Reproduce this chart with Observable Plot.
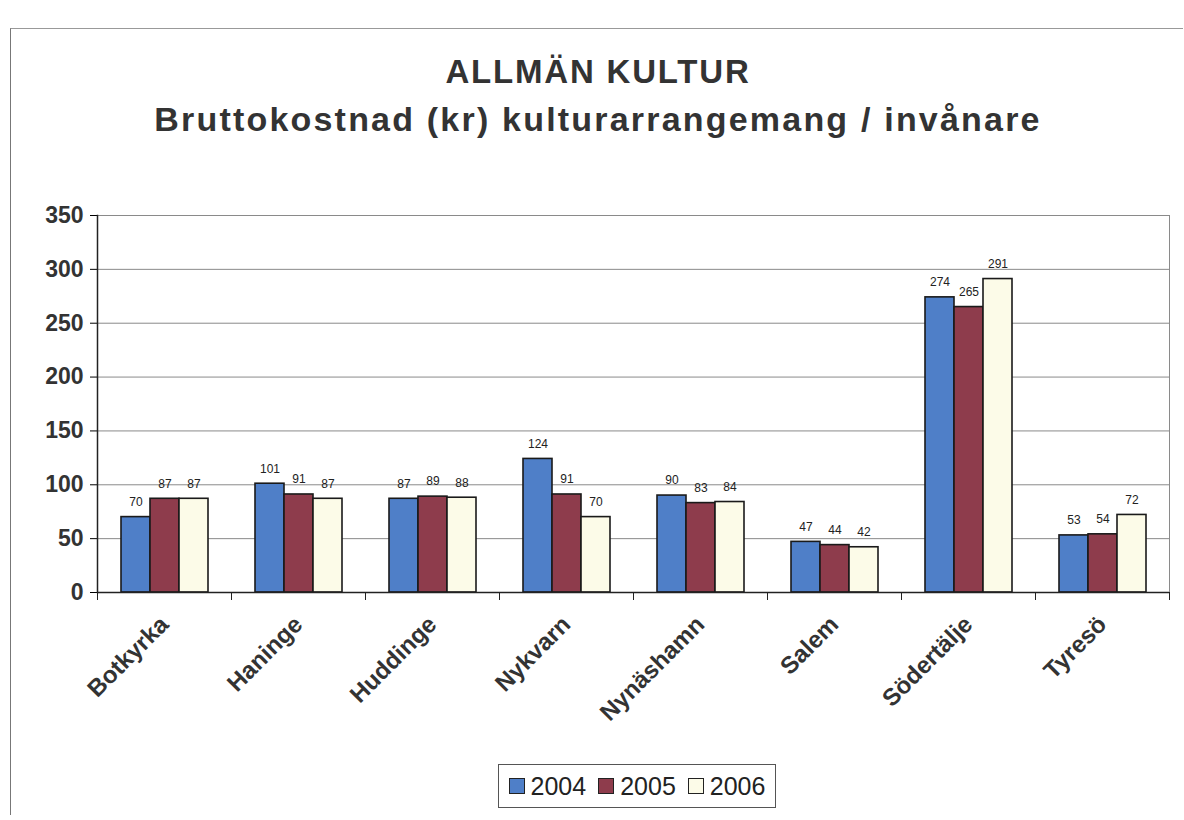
<!DOCTYPE html>
<html><head><meta charset="utf-8">
<script src="https://cdn.jsdelivr.net/npm/d3@7"></script>
<script src="https://cdn.jsdelivr.net/npm/@observablehq/plot@0.6"></script>
<style>
body{margin:0;background:#fff;font-family:"Liberation Sans",Arial,sans-serif;}
#frame{position:absolute;left:10px;top:28px;width:1172px;height:786px;border-left:1px solid #777;border-top:1px solid #999;}
#title{position:absolute;left:0;top:52px;width:1196px;text-align:center;color:#333;font-weight:bold;}
#title .t1{font-size:33px;line-height:40px;letter-spacing:1.8px;}
#title .t2{font-size:34px;line-height:46px;margin-top:4px;letter-spacing:2.2px;}
#chart{position:absolute;left:0;top:160px;}
#legend{position:absolute;left:498px;top:764px;width:276px;height:42px;border:1.5px solid #555;display:flex;align-items:center;justify-content:center;gap:12px;font-size:25px;color:#222;}
#legend span.sw{display:inline-block;width:14px;height:14px;border:1.5px solid #222;margin-right:6px;}
#legend .it{display:flex;align-items:center;}
</style></head>
<body>
<div id="frame"></div>
<div id="title"><div class="t1">ALLMÄN KULTUR</div><div class="t2">Bruttokostnad (kr) kulturarrangemang / invånare</div></div>
<div id="chart"></div>
<div id="legend"></div>
<script>
const kommuner = ["Botkyrka","Haninge","Huddinge","Nykvarn","Nynäshamn","Salem","Södertälje","Tyresö"];
const years = ["2004","2005","2006"];
const v2004 = [70,101,87,124,90,47,274,53];
const v2005 = [87,91,89,91,83,44,265,54];
const v2006 = [87,87,88,70,84,42,291,72];
const colors = ["#4f7fc8","#8e3c4c","#fcfbe8"];
const yTicks = [0,50,100,150,200,250,300,350];

const series = [v2004,v2005,v2006];
const data = [];
kommuner.forEach((k,i)=>years.forEach((y,j)=>data.push({kommun:k,year:y,value:series[j][i]})));

const plot = Plot.plot({
  width: 1184, height: 600,
  marginLeft: 95, marginRight: 14, marginTop: 55, marginBottom: 168,
  style:{fontFamily:'"Liberation Sans",Arial,sans-serif', background:"transparent", overflow:"visible"},
  fx:{domain:kommuner, padding:0, label:null},
  x:{domain:years, paddingInner:0, paddingOuter:0.76, axis:null},
  y:{domain:[0,350], ticks:yTicks, label:null},
  color:{domain:years, range:colors},
  marks:[
    Plot.gridY({ticks:yTicks, stroke:"#8a8a8a", strokeOpacity:1, strokeWidth:1}),
    Plot.frame({anchor:"right", stroke:"#8a8a8a", fx:[kommuner[kommuner.length-1]]}),
    Plot.frame({anchor:"left", insetTop:377, insetBottom:-7, stroke:"#222"}),
    Plot.frame({anchor:"right", insetTop:377, insetBottom:-7, stroke:"#222"}),
    Plot.barY(data, {fx:"kommun", x:"year", y:"value", fill:"year", stroke:"#1a1a1a", strokeWidth:1.6}),
    Plot.text(data, {fx:"kommun", x:"year", y:"value", text:d=>String(d.value), dy:-15, fontSize:12, fill:"#222"}),
    Plot.axisY({ticks:yTicks, tickSize:7, fontSize:23, fontWeight:"bold", fill:"#333", tickPadding:7, label:null, style:{letterSpacing:"1px"}}),
    Plot.frame({anchor:"left", stroke:"#222", strokeWidth:1.5, fx:[kommuner[0]]}),
    Plot.axisFx({anchor:"bottom", tickRotate:-45, tickSize:0, tickPadding:28, fontSize:24, fontWeight:"bold", fill:"#333", label:null, style:{letterSpacing:"1px"}}),
    Plot.ruleY([0], {stroke:"#222", strokeWidth:1.5})
  ]
});
document.getElementById("chart").appendChild(plot);

const leg = document.getElementById("legend");
years.forEach((y,j)=>{
  const d = document.createElement("div"); d.className="it";
  d.innerHTML = `<span class="sw" style="background:${colors[j]}"></span>${y}`;
  leg.appendChild(d);
});
</script>
</body></html>
